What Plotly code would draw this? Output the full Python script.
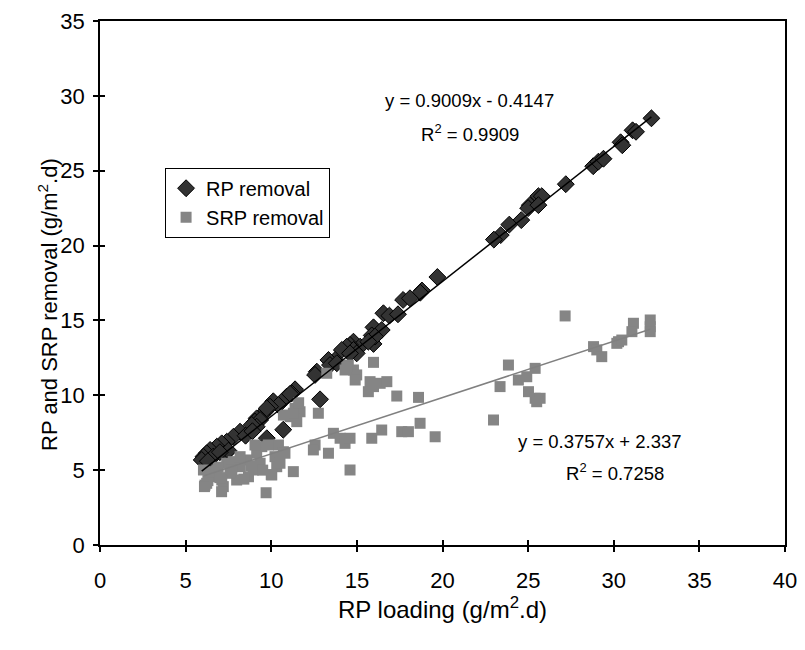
import plotly.graph_objects as go

# ---- data ----
rp_x = [32.2, 31.1, 31.3, 30.4, 30.5, 28.8, 29.1, 29.4, 27.2, 25.6, 25.8, 25.1, 25.0, 25.6,
        24.6, 23.9, 23.4, 23.0, 19.7, 18.8, 18.7, 17.7, 18.1, 16.55, 16.9, 17.4, 15.97, 16.45,
        15.87, 15.97, 14.8, 15.19, 16.06, 15.67, 14.6, 14.41, 14.8, 14.99, 14.12, 14.6, 13.73,
        13.34, 13.43, 13.83, 12.66, 12.56, 12.85, 11.39, 11.2, 10.9, 10.12, 10.42, 9.93, 9.64,
        9.45, 9.15, 9.05, 10.7, 11.1, 9.74, 9.35, 9.15, 8.86, 8.18, 7.79, 7.4, 7.11, 6.82, 6.43,
        6.23, 6.04, 5.94, 9.74, 7.3, 7.5, 8.5, 8.9, 6.6, 6.3, 7.0]
rp_y = [28.5, 27.7, 27.6, 26.9, 26.7, 25.3, 25.6, 25.8, 24.1, 23.3, 23.3, 22.7, 22.5, 22.7,
        21.7, 21.4, 20.7, 20.4, 17.9, 17.0, 16.85, 16.37, 16.48, 15.48, 15.32, 15.41, 14.54, 14.36,
        14.0, 13.43, 13.58, 13.25, 13.92, 13.58, 13.36, 13.25, 13.03, 12.8, 13.03, 12.8, 12.36,
        12.36, 12.02, 12.14, 11.58, 11.36, 9.73, 10.4, 10.13, 9.91, 9.6, 9.35, 9.24, 8.9,
        8.68, 8.46, 8.24, 7.7, 10.1, 9.13, 8.35, 7.9, 8.02, 7.57, 7.23, 6.9, 6.79, 6.57, 6.35,
        6.13, 5.9, 5.68, 7.13, 6.1, 6.3, 7.3, 7.6, 5.9, 5.6, 6.2]

srp_x = [27.16, 32.13, 32.13, 32.13, 31.15, 31.06, 30.28, 30.18, 30.47, 28.82, 29.01, 29.3,
         23.85, 23.36, 22.98, 25.41, 24.92, 24.43, 25.02, 25.41, 25.7, 25.5,
         15.97, 14.5, 14.8, 14.99, 14.9, 14.31, 13.24, 15.77, 16.36, 16.75, 15.67, 15.97,
         17.33, 18.6, 12.75, 13.63, 14.02, 14.31, 14.6, 12.56, 12.46, 13.34, 15.87, 16.45,
         17.62, 18.01, 18.69, 19.57, 14.6, 14.41,
         11.68, 11.49, 11.1, 10.42, 10.71, 10.22, 10.32, 10.03, 10.51, 11.29, 9.7,
         9.45, 9.15, 9.35, 8.95, 8.67, 8.57, 8.18, 7.98, 7.59, 7.2, 7.11, 6.43, 6.23,
         6.82, 6.04, 7.4, 7.79, 9.05, 9.83, 8.18, 11.39, 11.29, 10.8, 7.1, 6.13, 10.71,
         11.6, 6.3, 6.6, 7.0, 7.7, 8.4, 8.8, 9.5, 10.0, 6.1, 6.9]
srp_y = [15.3, 15.03, 14.58, 14.25, 14.81, 14.25, 13.58, 13.47, 13.69, 13.25, 13.03, 12.58,
         12.02, 10.58, 8.35, 11.8, 11.24, 11.02, 10.24, 9.8, 9.8, 9.57,
         12.2, 12.02, 11.69, 11.36, 11.02, 11.69, 11.47, 10.91, 10.8, 10.91, 10.24, 10.58,
         9.95, 9.86, 8.8, 7.46, 7.13, 6.79, 7.13, 6.68, 6.35, 6.13, 7.13, 7.68,
         7.57, 7.57, 8.13, 7.23, 5.01, 11.91,
         8.9, 8.24, 8.57, 6.68, 6.23, 5.9, 5.23, 4.68, 5.46, 4.9, 3.49,
         6.57, 6.13, 5.46, 5.01, 4.56, 5.68, 5.23, 4.34, 4.79, 3.9, 4.34, 4.56, 4.12,
         5.01, 5.01, 5.46, 5.57, 6.68, 6.68, 5.9, 9.13, 8.8, 6.13, 3.56, 4.0, 8.68,
         9.5, 4.3, 4.9, 4.5, 5.0, 4.4, 5.3, 5.0, 4.7, 3.9, 5.2]

rp_fit = (0.9009, -0.4147)
srp_fit = (0.3757, 2.337)

x_ticks = [0, 5, 10, 15, 20, 25, 30, 35, 40]
y_ticks = [0, 5, 10, 15, 20, 25, 30, 35]

FONT = "Liberation Sans, Arial, sans-serif"

def fit_line(xs, coef):
    lo, hi = min(xs), max(xs)
    return [lo, hi], [coef[0] * lo + coef[1], coef[0] * hi + coef[1]]

fig = go.Figure()
fig.add_trace(go.Scatter(x=rp_x, y=rp_y, mode="markers", name="RP removal",
                         marker=dict(symbol="diamond", size=13, color="#333333",
                                     line=dict(color="black", width=1))))
fig.add_trace(go.Scatter(x=srp_x, y=srp_y, mode="markers", name="SRP removal",
                         marker=dict(symbol="square", size=11, color="#858585",
                                     line=dict(width=0))))
lx, ly = fit_line(rp_x, rp_fit)
fig.add_trace(go.Scatter(x=lx, y=ly, mode="lines", showlegend=False,
                         line=dict(color="black", width=1.5)))
lx, ly = fit_line(srp_x, srp_fit)
fig.add_trace(go.Scatter(x=lx, y=ly, mode="lines", showlegend=False,
                         line=dict(color="#808080", width=1.5)))

# invisible trace on overlay axes for inner tick halves
fig.add_trace(go.Scatter(x=[None], y=[None], xaxis="x2", yaxis="y2", showlegend=False,
                         hoverinfo="skip"))

axis_common = dict(showgrid=False, zeroline=False, showline=True, linecolor="black",
                   linewidth=1.5, ticks="outside", ticklen=5, tickwidth=1.5,
                   tickcolor="black", mirror=True, automargin=False,
                   tickfont=dict(family=FONT, size=22, color="black"))

fig.update_layout(
    width=797, height=642,
    margin=dict(l=92, r=20, t=13, b=105),
    paper_bgcolor="white", plot_bgcolor="white",
    font=dict(family=FONT, color="black"),
    xaxis=dict(range=[0, 40], tickvals=x_ticks, ticklabelstandoff=10,
               title=dict(text="RP loading (g/m<sup>2</sup>.d)", font=dict(family=FONT, size=24),
                          standoff=9),
               **axis_common),
    yaxis=dict(range=[0, 35], tickvals=y_ticks, ticklabelstandoff=4, **axis_common),
    xaxis2=dict(range=[0, 40], tickvals=x_ticks, overlaying="x", showticklabels=False,
                ticks="inside", ticklen=5, tickwidth=1.5, tickcolor="black", automargin=False,
                showgrid=False, zeroline=False, showline=False, side="bottom"),
    yaxis2=dict(range=[0, 35], tickvals=y_ticks, overlaying="y", showticklabels=False,
                ticks="inside", ticklen=5, tickwidth=1.5, tickcolor="black", automargin=False,
                showgrid=False, zeroline=False, showline=False, side="left"),
    legend=dict(x=0.095, y=0.72, xanchor="left", yanchor="top",
                bordercolor="black", borderwidth=1, bgcolor="white",
                font=dict(family=FONT, size=20), tracegroupgap=2),
    showlegend=True,
)

# y-axis title (placed as a rotated annotation, like the original's offset title)
fig.add_annotation(xref="paper", yref="paper", x=-0.076, y=0.46,
                   text="RP and SRP removal (g/m<sup>2</sup>.d)", textangle=-90,
                   showarrow=False, xanchor="center", yanchor="middle",
                   font=dict(family=FONT, size=22))

fig.add_annotation(x=21.6, y=29.7, text="y = 0.9009x - 0.4147", showarrow=False,
                   font=dict(family=FONT, size=18.5), xanchor="center")
fig.add_annotation(x=21.6, y=27.5, text="R<sup>2</sup> = 0.9909", showarrow=False,
                   font=dict(family=FONT, size=18.5), xanchor="center")
fig.add_annotation(x=29.2, y=6.9, text="y = 0.3757x + 2.337", showarrow=False,
                   font=dict(family=FONT, size=18.5), xanchor="center")
fig.add_annotation(x=30.1, y=4.9, text="R<sup>2</sup> = 0.7258", showarrow=False,
                   font=dict(family=FONT, size=18.5), xanchor="center")

fig.write_html("out.html")
